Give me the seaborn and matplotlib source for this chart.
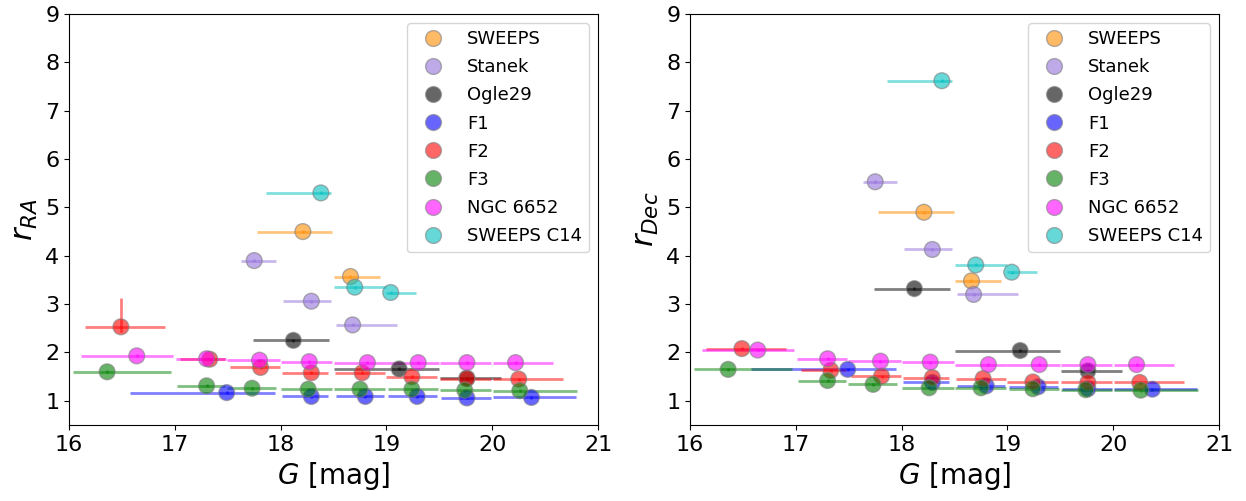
import numpy as np
import pandas as pd
import matplotlib
matplotlib.use("Agg")
import matplotlib.pyplot as plt
import seaborn as sns

# ---------------- data ----------------
fields = ["SWEEPS", "Stanek", "Ogle29", "F1", "F2", "F3", "NGC 6652", "SWEEPS C14"]
colors = ["darkorange", "mediumpurple", "black", "blue", "red", "green", "magenta", "c"]

sweeps_g = [18.21, 18.66]
sweeps_glo = [17.78, 18.50]
sweeps_ghi = [18.49, 18.94]
sweeps_ra = [4.50, 3.57]
sweeps_dec = [4.90, 3.48]

stanek_g = [17.75, 18.29, 18.68]
stanek_glo = [17.63, 18.02, 18.52]
stanek_ghi = [17.96, 18.48, 19.10]
stanek_ra = [3.90, 3.06, 2.57]
stanek_dec = [5.53, 4.13, 3.20]

ogle_g = [18.12, 19.12, 19.76]
ogle_glo = [17.74, 18.50, 19.51]
ogle_ghi = [18.46, 19.50, 20.08]
ogle_ra = [2.25, 1.66, 1.47]
ogle_dec = [3.32, 2.04, 1.62]

f1_g = [17.49, 18.29, 18.80, 19.29, 19.76, 20.37]
f1_glo = [16.58, 18.01, 18.52, 19.01, 19.52, 20.01]
f1_ghi = [17.95, 18.45, 18.98, 19.48, 19.99, 20.79]
f1_ra = [1.17, 1.09, 1.09, 1.09, 1.06, 1.07]
f1_dec = [1.65, 1.38, 1.31, 1.29, 1.25, 1.24]

f2_g = [16.49, 17.33, 17.81, 18.29, 18.77, 19.24, 19.76, 20.25]
f2_glo = [16.15, 17.05, 17.52, 18.01, 18.51, 19.00, 19.51, 20.01]
f2_ghi = [16.91, 17.47, 17.99, 18.45, 18.99, 19.48, 19.99, 20.67]
f2_ra = [2.53, 1.86, 1.69, 1.58, 1.58, 1.50, 1.46, 1.45]
f2_dec = [2.08, 1.63, 1.51, 1.48, 1.46, 1.39, 1.38, 1.38]
f2_ra_err_lo = [0.10, 0.03, 0.03, 0.03, 0.03, 0.03, 0.03, 0.03]
f2_ra_err_hi = [0.60, 0.03, 0.03, 0.03, 0.03, 0.03, 0.03, 0.03]

f3_g = [16.36, 17.30, 17.73, 18.26, 18.75, 19.24, 19.74, 20.26]
f3_glo = [16.04, 17.02, 17.49, 18.00, 18.50, 19.01, 19.51, 20.01]
f3_ghi = [16.96, 17.47, 17.96, 18.49, 18.99, 19.49, 19.99, 20.80]
f3_ra = [1.60, 1.31, 1.26, 1.24, 1.24, 1.24, 1.22, 1.21]
f3_dec = [1.65, 1.42, 1.34, 1.27, 1.27, 1.25, 1.23, 1.22]

ngc_g = [16.64, 17.30, 17.80, 18.27, 18.82, 19.30, 19.76, 20.22]
ngc_glo = [16.11, 17.01, 17.49, 18.00, 18.50, 19.00, 19.51, 20.01]
ngc_ghi = [16.98, 17.48, 17.99, 18.49, 19.00, 19.50, 19.99, 20.57]
ngc_ra = [1.93, 1.87, 1.84, 1.81, 1.79, 1.79, 1.79, 1.79]
ngc_dec = [2.05, 1.87, 1.82, 1.80, 1.75, 1.75, 1.75, 1.75]

c14_g = [18.38, 18.70, 19.04]
c14_glo = [17.86, 18.50, 19.00]
c14_ghi = [18.48, 19.00, 19.28]
c14_ra = [5.30, 3.35, 3.24]
c14_dec = [7.62, 3.81, 3.66]

series = {
    "SWEEPS": (sweeps_g, sweeps_glo, sweeps_ghi, sweeps_ra, sweeps_dec),
    "Stanek": (stanek_g, stanek_glo, stanek_ghi, stanek_ra, stanek_dec),
    "Ogle29": (ogle_g, ogle_glo, ogle_ghi, ogle_ra, ogle_dec),
    "F1": (f1_g, f1_glo, f1_ghi, f1_ra, f1_dec),
    "F2": (f2_g, f2_glo, f2_ghi, f2_ra, f2_dec),
    "F3": (f3_g, f3_glo, f3_ghi, f3_ra, f3_dec),
    "NGC 6652": (ngc_g, ngc_glo, ngc_ghi, ngc_ra, ngc_dec),
    "SWEEPS C14": (c14_g, c14_glo, c14_ghi, c14_ra, c14_dec),
}

xticks = [16, 17, 18, 19, 20, 21]
yticks = [1, 2, 3, 4, 5, 6, 7, 8, 9]

rows = []
for name in fields:
    g, glo, ghi, ra, dec = series[name]
    for i in range(len(g)):
        rows.append(dict(field=name, G=g[i], Glo=glo[i], Ghi=ghi[i], rRA=ra[i], rDec=dec[i]))
df = pd.DataFrame(rows)

palette = dict(zip(fields, colors))

fig = plt.figure(figsize=(12.46, 5.01), dpi=100)
ax1 = fig.add_axes([0.0554, 0.1517, 0.4246, 0.8204])
ax2 = fig.add_axes([0.5538, 0.1517, 0.4246, 0.8204])

for ax, col, ylab in [(ax1, "rRA", r"$r_{RA}$"), (ax2, "rDec", r"$r_{Dec}$")]:
    for name in fields:
        sub = df[df.field == name]
        xerr = [sub.G - sub.Glo, sub.Ghi - sub.G]
        if name == "F2" and col == "rRA":
            yerr = [f2_ra_err_lo, f2_ra_err_hi]
        else:
            yerr = 0.03
        ax.errorbar(sub.G, sub[col], xerr=xerr, yerr=yerr, fmt="none",
                    ecolor=palette[name], elinewidth=2, alpha=0.5, zorder=1)
    sns.scatterplot(data=df, x="G", y=col, hue="field", hue_order=fields,
                    palette=palette, s=130, alpha=0.6, edgecolor="grey",
                    linewidth=1, ax=ax, zorder=2)
    ax.set_xlim(16, 21)
    ax.set_ylim(0.5, 9)
    ax.set_xticks(xticks)
    ax.set_yticks(yticks)
    ax.tick_params(labelsize=16)
    ax.set_xlabel(r"$G$ [mag]", fontsize=20)
    ax.set_ylabel(ylab, fontsize=22)
    handles, labels = ax.get_legend_handles_labels()
    ax.legend(handles, labels, loc="upper right", fontsize=13, labelspacing=0.56,
              handletextpad=0.9, borderpad=0.4, title=None)

fig.savefig("out.png", dpi=100)
